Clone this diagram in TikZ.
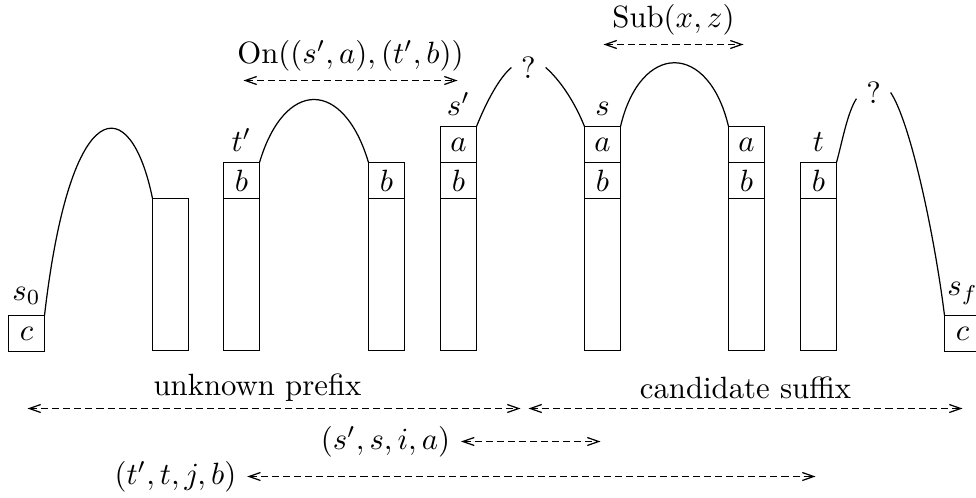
\documentclass[tikz,border=0pt]{standalone}
\usepackage{amsmath}
\usepackage{tikz}
\usetikzlibrary{arrows.meta}

\begin{document}
\begin{tikzpicture}[x=0.325pt, y=-0.325pt,
        cell/.style={draw, minimum width=11.7pt, minimum height=11.7pt, inner sep=0pt, outer sep=0pt, anchor=north west},
        span/.style={{Straight Barb[length=3.7pt, width=2.6pt]}-{Straight Barb[length=3.7pt, width=2.6pt]}, dash pattern=on 2.3pt off 1.3pt},
        qnode/.style={inner sep=3pt}]
        \useasboundingbox (-0.5,-0.5) rectangle (975.5,496.5);
        \coordinate (base) at (0,350);

        % --- Stacks ---

        % Initial state s_0
        \node[cell] (s0c) at (8,315) {$c$};
        \node[above] (s0) at (s0c.north) {$s_0$};

        % Plain column
        \coordinate (e1) at (152,198);
        \draw (e1) rectangle (188,350);

        % Column t'
        \node[cell] (tpb) at (223,162) {$b$};
        \draw (tpb.south west) rectangle (tpb.south east |- base);
        \node[above] (tp) at (tpb.north) {$t'$};

        % Column with b on top
        \node[cell] (ub) at (368,162) {$b$};
        \draw (ub.south west) rectangle (ub.south east |- base);

        % Column s'
        \node[cell] (spa) at (440,126) {$a$};
        \node[cell] (spb) at (spa.south west) {$b$};
        \draw (spb.south west) rectangle (spb.south east |- base);
        \node[above] (sp) at (spa.north) {$s'$};

        % Column s
        \node[cell] (sa) at (584,126) {$a$};
        \node[cell] (sb) at (sa.south west) {$b$};
        \draw (sb.south west) rectangle (sb.south east |- base);
        \node[above] (s) at (sa.north) {$s$};

        % Column with a on b
        \node[cell] (ra) at (728,126) {$a$};
        \node[cell] (rb) at (ra.south west) {$b$};
        \draw (rb.south west) rectangle (rb.south east |- base);

        % Column t
        \node[cell] (tb) at (800,162) {$b$};
        \draw (tb.south west) rectangle (tb.south east |- base);
        \node[above] (t) at (tb.north) {$t$};

        % Final state s_f
        \node[cell] (sfc) at (944,315) {$c$};
        \node[above] (sf) at (sfc.north) {$s_f$};

        % --- Unknown steps ---
        \node[qnode] (q1) at (528,67) {?};
        \node[qnode] (q2) at (873,92) {?};

        % --- Paths between states ---
        \draw (s0c.north east) .. controls +(26,-225) and +(-22,-108) .. (e1);
        \draw (tpb.north east) .. controls +(25,-84) and +(-25,-84) .. (ub.north west);
        \draw (spa.north east) .. controls +(10,-25) and +(-12,10) .. (q1.west);
        \draw (q1.east) .. controls +(14,12) and +(-10,-25) .. (sa.north west);
        \draw (sa.north east) .. controls +(20,-85) and +(-20,-85) .. (ra.north west);
        \draw (tb.north east) .. controls +(6,-22) and +(-9,14) .. (q2.200);
        \draw (q2.east) .. controls +(20,30) and +(-10,-80) .. (sfc.north west);

        % --- Spans ---
        \node (on) at (350,55) {$\mathrm{On}((s',a),(t',b))$};
        \coordinate (on1) at (243,80);
        \coordinate (on2) at (457,80);
        \draw[span] (on1) -- (on2);

        \node (sub) at (673,19) {$\mathrm{Sub}(x,z)$};
        \coordinate (sub1) at (603,44);
        \coordinate (sub2) at (743,44);
        \draw[span] (sub1) -- (sub2);

        \node (pre) at (257,387) {unknown prefix};
        \coordinate (pre1) at (27,408);
        \coordinate (pre2) at (520,408);
        \draw[span] (pre1) -- (pre2);

        \node (suf) at (745,387) {candidate suffix};
        \coordinate (suf1) at (528,408);
        \coordinate (suf2) at (962,408);
        \draw[span] (suf1) -- (suf2);

        \node (si) at (385,441) {$(s',s,i,a)$};
        \coordinate (si2) at (600,441);
        \draw[span] (si) -- (si2);

        \node (tj) at (175,476) {$(t',t,j,b)$};
        \coordinate (tj2) at (815,476);
        \draw[span] (tj) -- (tj2);
\end{tikzpicture}
\end{document}
